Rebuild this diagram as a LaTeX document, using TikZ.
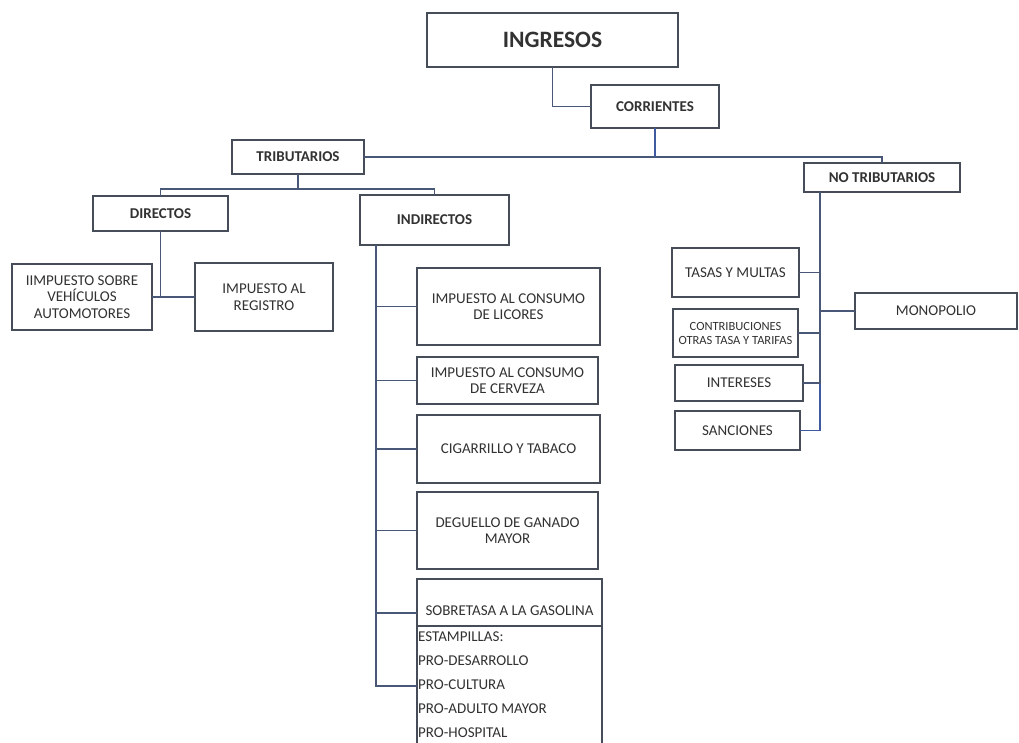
\documentclass[tikz,border=0pt]{standalone}
\usepackage{fontspec}
\setmainfont{Carlito}
\definecolor{boxc}{RGB}{70,76,88}
\definecolor{linec}{RGB}{72,88,118}
\definecolor{bluec}{RGB}{64,90,160}
\definecolor{txtc}{RGB}{50,50,50}
\tikzset{
  box/.style={draw=boxc, line width=1.3pt, rectangle, inner sep=1pt, outer sep=0pt, align=center, text=txtc, font=\fontsize{15}{16.5}\selectfont},
  hbox/.style={box, font=\bfseries\fontsize{15}{16.5}\selectfont},
  conn/.style={draw=linec, line width=1.3pt},
  bconn/.style={draw=bluec, line width=1.8pt}
}
\begin{document}
\begin{tikzpicture}[x=1pt,y=-1pt]
\clip (0,0) rectangle (1019,742);
\fill[white] (0,0) rectangle (1019,742);

% top levels
\node[hbox, font=\bfseries\fontsize{23.5}{26}\selectfont, minimum width=251pt, minimum height=54pt] (ing) at (552.5,40) {INGRESOS};
\node[hbox, minimum width=128pt, minimum height=43pt] (cor) at (655,106.5) {CORRIENTES};
\node[hbox, minimum width=132pt, minimum height=34pt] (trib) at (298,157) {TRIBUTARIOS};
\node[hbox, minimum width=156pt, minimum height=29pt] (notrib) at (882,177.5) {NO TRIBUTARIOS};
\node[hbox, minimum width=135pt, minimum height=35pt] (dir) at (160.5,213.5) {DIRECTOS};
\node[hbox, minimum width=149pt, minimum height=50pt] (ind) at (434.5,220) {INDIRECTOS};

% directos children
\node[box, minimum width=140pt, minimum height=66pt] (isv) at (82,297) {IIMPUESTO SOBRE\\VEHÍCULOS\\AUTOMOTORES};
\node[box, minimum width=138pt, minimum height=68pt] (ir) at (264,297) {IMPUESTO AL\\REGISTRO};

% indirectos children
\node[box, minimum width=183pt, minimum height=77pt] (lic) at (508.5,306.5) {IMPUESTO AL CONSUMO\\DE LICORES};
\node[box, minimum width=181pt, minimum height=47pt] (cer) at (507.5,380.5) {IMPUESTO AL CONSUMO\\DE CERVEZA};
\node[box, minimum width=183pt, minimum height=68pt] (cig) at (508.5,449) {CIGARRILLO Y TABACO};
\node[box, minimum width=181pt, minimum height=77pt] (deg) at (507.5,530.5) {DEGUELLO DE GANADO\\MAYOR};
\node[box, minimum width=185pt, minimum height=47pt] (sob) at (509.5,602.5) {};
\node[text=txtc, font=\fontsize{15}{16.5}\selectfont, anchor=base, inner sep=0pt] (sobt) at (509.5,615.5) {SOBRETASA A LA GASOLINA};
\node[box, minimum width=185pt, minimum height=154pt] (est) at (509.5,703) {};
\node[text=txtc, font=\fontsize{15}{23.8}\selectfont, anchor=north west, align=left, inner sep=0pt] (estt) at (418,632) {ESTAMPILLAS:\\PRO-DESARROLLO\\PRO-CULTURA\\PRO-ADULTO MAYOR\\PRO-HOSPITAL};

% no tributarios children
\node[box, minimum width=127pt, minimum height=49pt] (tas) at (735.5,272.5) {TASAS Y MULTAS};
\node[box, minimum width=162pt, minimum height=36pt] (mon) at (936,311) {MONOPOLIO};
\node[box, minimum width=125pt, minimum height=48pt, font=\fontsize{12.5}{14}\selectfont, inner sep=0pt] (con) at (735.5,333) {CONTRIBUCIONES\\OTRAS TASA Y TARIFAS};
\node[box, minimum width=128pt, minimum height=36pt] (int) at (739,383) {INTERESES};
\node[box, minimum width=125pt, minimum height=39pt] (san) at (737.5,430.5) {SANCIONES};

% connectors
\draw[conn] (ing.south) |- (cor.west);
\draw[conn] (trib.east) -| (notrib.north);
\draw[bconn] (cor.south) -- (cor.south |- trib.east);

\coordinate (tb) at (298,189);
\draw[conn] (trib.south) -- (tb);
\draw[conn] (dir.north) |- (tb) -| (ind.north);

\coordinate (db) at (160.5,297);
\draw[conn] (dir.south) -- (db);
\draw[conn] (isv.east) -- (ir.west);

\coordinate (ib) at (376,245);
\coordinate (sb) at (417,613);
\coordinate (eb) at (417,686);
\draw[conn] (ib) |- (lic.west);
\draw[conn] (ib) |- (cer.west);
\draw[conn] (ib) |- (cig.west);
\draw[conn] (ib) |- (deg.west);
\draw[conn] (ib) |- (sb);
\draw[conn] (ib) |- (eb);

\coordinate (nb) at (820,192);
\draw[bconn] (nb) |- (san.east);
\draw[conn] (nb) |- (tas.east);
\draw[conn] (nb) |- (mon.west);
\draw[conn] (nb) |- (con.east);
\draw[conn] (nb) |- (int.east);
\end{tikzpicture}
\end{document}
